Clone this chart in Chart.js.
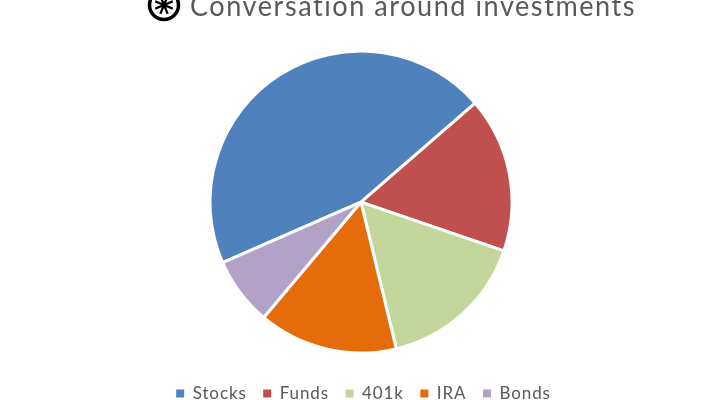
<!DOCTYPE html>
<html>
<head>
<meta charset="utf-8">
<script src="https://cdn.jsdelivr.net/npm/chart.js@4"></script>
<style>
html, body { margin: 0; background: #fff; overflow: hidden; width: 722px; height: 400px; }
#wrap { position: absolute; left: 0; top: -20px; width: 722px; height: 432px; }
</style>
</head>
<body>
<div id="wrap"><canvas id="pieChart"></canvas></div>
<script>
const categories = ['Stocks', 'Funds', '401k', 'IRA', 'Bonds'];
const shares = [45.2, 16.6, 16.0, 14.9, 7.3];
const sliceColors = ['#4f81bd', '#c0504d', '#c3d69b', '#e46c0a', '#b3a2c7'];
const chartTitle = 'Conversation around investments';

// wider tracking like the original font, and the title sits right of the badge
const titleTweaks = {
    id: 'titleTweaks',
    beforeLayout(chart) {
        chart.ctx.letterSpacing = '0.9px';
    },
    afterLayout(chart) {
        const block = chart.titleBlock;
        block.left = 190;
        block.right = 636;
        chart.legend.left += 2.5;
        chart.legend.right += 2.5;
        if (!block.tracked) {
            const drawTitle = block.draw;
            block.draw = function() {
                chart.ctx.letterSpacing = '1.6px';
                drawTitle.call(block);
                chart.ctx.letterSpacing = '0.9px';
            };
            block.tracked = true;
        }
    }
};

const titleIcon = {
    id: 'titleIcon',
    afterDraw(chart) {
        const ctx = chart.ctx;
        const x = 164, y = 25, r = 14.5;
        ctx.save();
        ctx.strokeStyle = '#000';
        ctx.lineWidth = 3.5;
        ctx.beginPath();
        ctx.arc(x, y, r, 0, Math.PI * 2);
        ctx.stroke();
        ctx.lineWidth = 2.2;
        ctx.beginPath();
        for (let i = 0; i < 8; i++) {
            const a = i * Math.PI / 4 + Math.PI / 8;
            ctx.moveTo(x, y);
            ctx.lineTo(x + Math.cos(a) * 9.5, y + Math.sin(a) * 9.5);
        }
        ctx.stroke();
        ctx.restore();
    }
};

new Chart(document.getElementById('pieChart').getContext('2d'), {
    type: 'pie',
    data: {
        labels: categories,
        datasets: [{
            data: shares,
            backgroundColor: sliceColors,
            borderColor: '#fff',
            borderWidth: 3
        }]
    },
    plugins: [titleTweaks, titleIcon],
    options: {
        responsive: true,
        maintainAspectRatio: false,
        animation: false,
        rotation: 246.4,
        radius: 151,
        plugins: {
            title: {
                display: true,
                text: chartTitle,
                color: '#595959',
                font: { family: 'Lato', size: 28, weight: 'normal' },
                padding: { top: 10, bottom: 12 }
            },
            legend: {
                position: 'bottom',
                labels: {
                    color: '#595959',
                    font: { family: 'Lato', size: 17 },
                    boxWidth: 8,
                    boxHeight: 8,
                    padding: 16.5,
                    generateLabels(chart) {
                        const items = Chart.overrides.pie.plugins.legend.labels.generateLabels(chart);
                        return items.map(item => ({ ...item, lineWidth: 0 }));
                    }
                }
            },
            tooltip: { enabled: false }
        }
    }
});
</script>
</body>
</html>
